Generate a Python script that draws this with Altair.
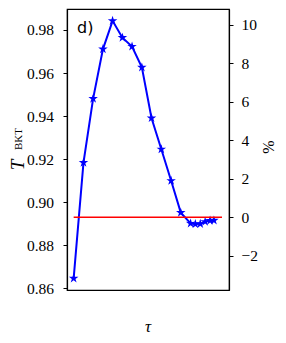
import altair as alt
import pandas as pd

tau = [0.0, 0.056, 0.111, 0.167, 0.222, 0.278, 0.333, 0.389, 0.444, 0.5,
       0.556, 0.611, 0.667, 0.694, 0.722, 0.75, 0.778, 0.8]
tbkt = [0.8647, 0.9184, 0.9481, 0.9711, 0.9842, 0.9764, 0.9723, 0.9626, 0.9391,
        0.9246, 0.9100, 0.8952, 0.8902, 0.8899, 0.8900, 0.8910, 0.8915, 0.8916]
ref_tau = [0.0, 0.846]
ref_pct = [0.0, 0.0]
left_ticks = [0.86, 0.88, 0.90, 0.92, 0.94, 0.96, 0.98]
right_ticks = [-2, 0, 2, 4, 6, 8, 10]
x_ticks = [0.0, 0.2, 0.4, 0.6, 0.8]

df = pd.DataFrame({"tau": tau, "T": tbkt})
ref = pd.DataFrame({"tau": ref_tau, "pct": ref_pct})

STAR = ("M0,-1L0.2234,-0.3074L0.9511,-0.309L0.3614,0.1174L0.5878,0.809"
        "L0,0.38L-0.5878,0.809L-0.3614,0.1174L-0.9511,-0.309L-0.2234,-0.3074Z")

SERIF = "Liberation Serif"
LS = 15.5
xs = alt.Scale(domain=[-0.038, 0.886], nice=False, zero=False)
xax = alt.Axis(values=x_ticks, format=".1f", title=None, grid=False,
               tickSize=4, labelPadding=6)

base = alt.Chart(df).encode(
    x=alt.X("tau:Q", scale=xs, axis=xax),
    y=alt.Y("T:Q", scale=alt.Scale(domain=[0.8593, 0.9897], nice=False, zero=False),
            axis=alt.Axis(values=left_ticks, format=".2f", title=None, grid=False,
                          tickSize=4, labelPadding=9.5)),
)
line = base.mark_line(color="#0000ff", strokeWidth=2)
pts = base.mark_point(shape=STAR, size=100, filled=True, color="#0000ff", opacity=1)
left = alt.layer(line, pts)

right = alt.Chart(ref).mark_line(color="#ff0000", strokeWidth=1.4).encode(
    x=alt.X("tau:Q", scale=xs, axis=None),
    y=alt.Y("pct:Q", scale=alt.Scale(domain=[-3.78, 10.83], nice=False, zero=False),
            axis=alt.Axis(orient="right", values=right_ticks, format="d", title=None,
                          grid=False, tickSize=4, labelPadding=8)),
)

def label(text, x, y, size, font, style="normal", angle=0, align="center", baseline="middle"):
    kw = dict(text=text, font=font, fontSize=size, fontStyle=style, color="black",
              align=align, baseline=baseline)
    if angle:
        kw["angle"] = angle
    return alt.Chart(pd.DataFrame({"a": [0]})).mark_text(**kw).encode(
        x=alt.value(x), y=alt.value(y))

texts = alt.layer(
    label("d)", 10, 24, 16, "DejaVu Sans", align="left", baseline="alphabetic"),
    label("T", -49, 156, 19, SERIF, style="italic", angle=270),
    label("BKT", -48, 130, 11, SERIF, angle=270),
    label("%", 202, 138, 16, SERIF, angle=270),
    label("τ", 81, 323, 17, SERIF, style="italic", baseline="alphabetic"),
)

chart = alt.layer(left, right, texts).resolve_scale(y="independent").properties(
    width=162, height=281,
    autosize=alt.AutoSizeParams(type="none"),
    padding={"left": 59, "top": 1, "right": 49, "bottom": 45},
).configure_view(stroke="black", strokeWidth=1.2).configure_axis(
    labelFont=SERIF, labelFontSize=LS, labelColor="black", tickColor="black",
    domainColor="black", domainWidth=1.2, tickWidth=1,
)

chart.save("out.html", embed_options={"renderer": "svg", "actions": False})
